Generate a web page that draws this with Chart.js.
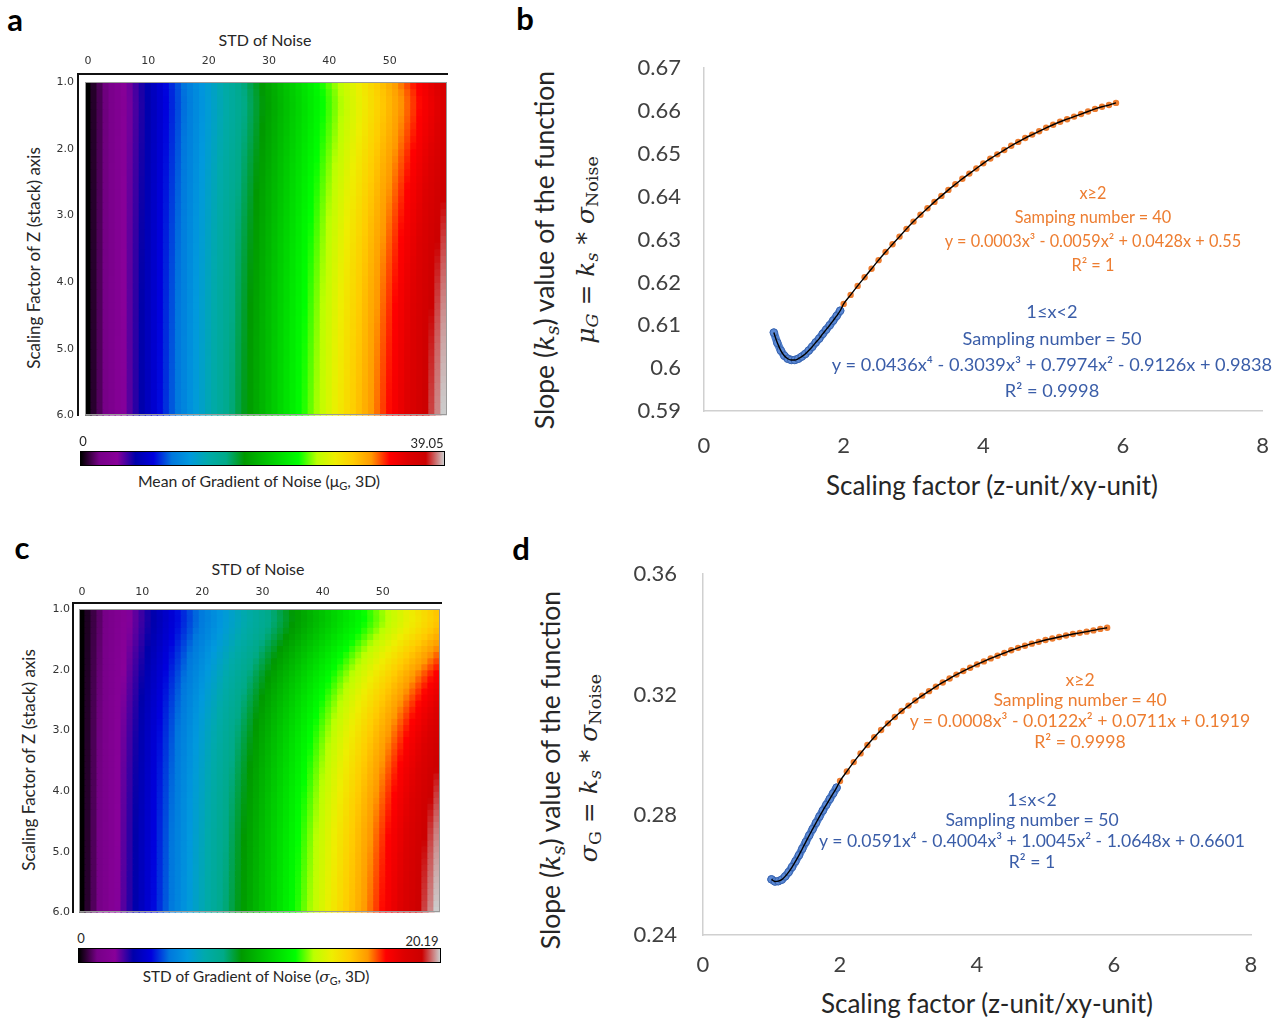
<!DOCTYPE html>
<html>
<head>
<meta charset="utf-8">
<script src="https://cdn.jsdelivr.net/npm/chart.js@4.4.0/dist/chart.umd.min.js"></script>
<style>
  body { margin: 0; background: #fff; }
  #fig { position: relative; width: 1285px; height: 1019px; overflow: hidden; font-family: Lato, 'Open Sans', sans-serif; color: #262626; }
  canvas { position: absolute; }
  .t { position: absolute; transform: translate(-50%, -50%); white-space: nowrap; line-height: 1; }
  .rot { transform: translate(-50%, -50%) rotate(-90deg); }
  .lbl { font-weight: 700; font-size: 31px; color: #000; }
  .m { font-family: 'DejaVu Serif', serif; font-style: italic; }
  .up { font-style: normal; }
  .o { color: #ED7D31; }
  .bl { color: #3A5DA8; }
  .line { position: absolute; background: #111; }
  .frame { position: absolute; border: 1px solid #9a9a9a; box-sizing: border-box; pointer-events: none; }
  .cbar { position: absolute; border: 1px solid #000; box-sizing: border-box; }
  sub { font-size: 0.7em; vertical-align: -0.25em; }
</style>
</head>
<body>
<div id="fig">
  <!-- panel a -->
  <div class="t lbl" style="left:15px; top:19px;">a</div>
  <div class="t" style="left:265px; top:40px; font-size:16px;">STD of Noise</div>
  <div class="t rot" style="left:33px; top:258px; font-size:17px;">Scaling Factor of Z (stack) axis</div>
  <canvas id="heatA" width="430" height="392" style="left:30px; top:41px;"></canvas>
  <div class="line" style="left:77px; top:73px; width:371px; height:2px;"></div>
  <div class="line" style="left:77px; top:73px; width:2px; height:343px;"></div>
  <div class="frame" id="frameA"></div>
  <div class="cbar" id="barA" style="left:80px; top:451px; width:365px; height:15px;"></div>
  <div class="t" style="left:83px; top:441px; font-size:13px;">0</div>
  <div class="t" style="left:427px; top:443px; font-size:13px;">39.05</div>
  <div class="t" style="left:259px; top:482px; font-size:15.8px;">Mean of Gradient of Noise (μ<sub>G</sub>, 3D)</div>

  <!-- panel c -->
  <div class="t lbl" style="left:22px; top:547px;">c</div>
  <div class="t" style="left:258px; top:569px; font-size:16px;">STD of Noise</div>
  <div class="t rot" style="left:28px; top:760px; font-size:17px;">Scaling Factor of Z (stack) axis</div>
  <canvas id="heatC" width="430" height="366" style="left:25px; top:562px;"></canvas>
  <div class="line" style="left:72px; top:602px; width:370px; height:2px;"></div>
  <div class="line" style="left:72px; top:602px; width:2px; height:311px;"></div>
  <div class="frame" id="frameC"></div>
  <div class="cbar" id="barC" style="left:78px; top:948px; width:363px; height:15px;"></div>
  <div class="t" style="left:81px; top:938px; font-size:13px;">0</div>
  <div class="t" style="left:422px; top:941px; font-size:13px;">20.19</div>
  <div class="t" style="left:256px; top:978px; font-size:15.3px;">STD of Gradient of Noise (<span class="m">σ</span><sub>G</sub>, 3D)</div>

  <!-- panel b -->
  <div class="t lbl" style="left:525px; top:18px;">b</div>
  <div class="t rot" style="left:547px; top:250px; font-size:26.5px;">Slope (<span class="m">k<sub>s</sub></span>) value of the function</div>
  <div class="t rot m" style="left:587px; top:250px; font-size:25px;">μ<sub>G</sub> <span class="up">=</span> k<sub>s</sub> <span class="up">*</span> σ<sub class="up">Noise</sub></div>
  <canvas id="slopeB" width="691" height="424" style="left:600px; top:32px;"></canvas>
  <div class="t" style="left:992px; top:485px; font-size:26px;">Scaling factor (z-unit/xy-unit)</div>
  <div class="t o" style="left:1093px; top:193px; font-size:16.3px;">x≥2</div>
  <div class="t o" style="left:1093px; top:217px; font-size:16.3px;">Samping number = 40</div>
  <div class="t o" style="left:1093px; top:241px; font-size:16.3px;">y = 0.0003x³ - 0.0059x² + 0.0428x + 0.55</div>
  <div class="t o" style="left:1093px; top:265px; font-size:16.3px;">R² = 1</div>
  <div class="t bl" style="left:1052px; top:311px; font-size:18.2px;">1≤x&lt;2</div>
  <div class="t bl" style="left:1052px; top:338px; font-size:18.2px;">Sampling number = 50</div>
  <div class="t bl" style="left:1052px; top:364px; font-size:18.2px;">y = 0.0436x⁴ - 0.3039x³ + 0.7974x² - 0.9126x + 0.9838</div>
  <div class="t bl" style="left:1052px; top:390px; font-size:18.2px;">R² = 0.9998</div>

  <!-- panel d -->
  <div class="t lbl" style="left:521px; top:548px;">d</div>
  <div class="t rot" style="left:553px; top:770px; font-size:26.5px;">Slope (<span class="m">k<sub>s</sub></span>) value of the function</div>
  <div class="t rot m" style="left:590px; top:768px; font-size:25px;">σ<sub class="up">G</sub> <span class="up">=</span> k<sub>s</sub> <span class="up">*</span> σ<sub class="up">Noise</sub></div>
  <canvas id="slopeD" width="676" height="445" style="left:600px; top:535px;"></canvas>
  <div class="t" style="left:987px; top:1003px; font-size:26px;">Scaling factor (z-unit/xy-unit)</div>
  <div class="t o" style="left:1080px; top:680px; font-size:17.6px;">x≥2</div>
  <div class="t o" style="left:1080px; top:700px; font-size:17.6px;">Sampling number = 40</div>
  <div class="t o" style="left:1080px; top:721px; font-size:17.6px;">y = 0.0008x³ - 0.0122x² + 0.0711x + 0.1919</div>
  <div class="t o" style="left:1080px; top:742px; font-size:17.6px;">R² = 0.9998</div>
  <div class="t bl" style="left:1032px; top:800px; font-size:17.6px;">1≤x&lt;2</div>
  <div class="t bl" style="left:1032px; top:820px; font-size:17.6px;">Sampling number = 50</div>
  <div class="t bl" style="left:1032px; top:841px; font-size:17.6px;">y = 0.0591x⁴ - 0.4004x³ + 1.0045x² - 1.0648x + 0.6601</div>
  <div class="t bl" style="left:1032px; top:862px; font-size:17.6px;">R² = 1</div>
</div>

<script>
// STD of noise columns and scaling factor rows of the heatmaps
const noiseStd = [0,1,2,3,4,5,6,7,8,9,10,11,12,13,14,15,16,17,18,19,20,21,22,23,24,25,26,27,28,29,
                  30,31,32,33,34,35,36,37,38,39,40,41,42,43,44,45,46,47,48,49,50,51,52,53,54,55,56,57,58,59];
const rowScale = [1.0,1.1,1.2,1.3,1.4,1.5,1.6,1.7,1.8,1.9,2.0,2.1,2.2,2.3,2.4,2.5,2.6,2.7,2.8,2.9,
                  3.0,3.1,3.2,3.3,3.4,3.5,3.6,3.7,3.8,3.9,4.0,4.1,4.2,4.3,4.4,4.5,4.6,4.7,4.8,4.9,
                  5.0,5.1,5.2,5.3,5.4,5.5,5.6,5.7,5.8,5.9];

// slope samples, 1 <= x < 2
const lowX = [1.00,1.05,1.10,1.15,1.20,1.25,1.30,1.35,1.40,1.45,1.50,1.55,1.60,1.65,1.70,1.75,1.80,1.85,1.90,1.95];
const muLowY = [0.6083,0.6059,0.6041,0.6029,0.6022,0.6019,0.6019,0.6022,0.6027,0.6033,
                0.6041,0.6050,0.6060,0.6069,0.6080,0.6090,0.6100,0.6111,0.6122,0.6134];
const sigLowY = [0.2585,0.2578,0.2579,0.2584,0.2595,0.2609,0.2626,0.2645,0.2665,0.2687,
                 0.2709,0.2731,0.2752,0.2773,0.2794,0.2814,0.2833,0.2852,0.2871,0.2890];

// slope samples, x >= 2
const highX = [2.0,2.1,2.2,2.3,2.4,2.5,2.6,2.7,2.8,2.9,3.0,3.1,3.2,3.3,3.4,3.5,3.6,3.7,3.8,3.9,
               4.0,4.1,4.2,4.3,4.4,4.5,4.6,4.7,4.8,4.9,5.0,5.1,5.2,5.3,5.4,5.5,5.6,5.7,5.8,5.9];
const muHighY = [0.6150,0.6171,0.6192,0.6212,0.6232,0.6252,0.6271,0.6289,0.6307,0.6325,
                 0.6342,0.6358,0.6373,0.6388,0.6402,0.6416,0.6429,0.6442,0.6454,0.6466,
                 0.6478,0.6489,0.6499,0.6509,0.6519,0.6528,0.6537,0.6545,0.6553,0.6561,
                 0.6568,0.6575,0.6581,0.6587,0.6593,0.6599,0.6605,0.6610,0.6614,0.6619];
const sigHighY = [0.2912,0.2944,0.2975,0.3004,0.3032,0.3058,0.3082,0.3104,0.3125,0.3145,
                  0.3163,0.3180,0.3196,0.3211,0.3226,0.3240,0.3253,0.3266,0.3278,0.3289,
                  0.3300,0.3310,0.3320,0.3329,0.3338,0.3347,0.3355,0.3362,0.3369,0.3375,
                  0.3381,0.3386,0.3391,0.3396,0.3401,0.3405,0.3409,0.3413,0.3418,0.3422];

// colour bar limits and tick labels
const muMax = 39.05;
const sigMax = 20.19;
const heatXTicks = [0,10,20,30,40,50];
const heatYTicks = [1,2,3,4,5,6];
const factorTicks = [0,2,4,6,8];
const muTicks = [0.59,0.6,0.61,0.62,0.63,0.64,0.65,0.66,0.67];
const sigTicks = [0.24,0.28,0.32,0.36];

// nipy_spectral colour stops
const cmapStops = [
    [0,0,0],[0.4667,0,0.5333],[0.5333,0,0.6],[0,0,0.6667],[0,0,0.8667],[0,0.4667,0.8667],
    [0,0.6,0.8667],[0,0.6667,0.6667],[0,0.6667,0.5333],[0,0.6,0],[0,0.7333,0],[0,0.8667,0],
    [0,1,0],[0.7333,1,0],[0.9333,0.9333,0],[1,0.8,0],[1,0.6,0],[1,0,0],[0.8667,0,0],[0.8,0,0],[0.8,0.8,0.8]
];

function spectral(t) {
    t = Math.max(0, Math.min(1, t));
    const p = t * (cmapStops.length - 1);
    const i = Math.min(Math.floor(p), cmapStops.length - 2);
    const f = p - i;
    const a = cmapStops[i], b = cmapStops[i + 1];
    const c = a.map((v, j) => Math.round(255 * (v + (b[j] - v) * f)));
    return `rgb(${c[0]},${c[1]},${c[2]})`;
}

function stopColor(c) {
    return `rgb(${Math.round(c[0] * 255)},${Math.round(c[1] * 255)},${Math.round(c[2] * 255)})`;
}

// colour bars
const gradient = 'linear-gradient(to right,' +
    cmapStops.map((c, i) => `${stopColor(c)} ${(i * 100 / (cmapStops.length - 1)).toFixed(1)}%`).join(',') + ')';
document.getElementById('barA').style.background = gradient;
document.getElementById('barC').style.background = gradient;

function slopeFor(s, lowY, highY) {
    let i = lowX.findIndex(x => Math.abs(x - s) < 1e-6);
    if (i >= 0) return lowY[i];
    i = highX.findIndex(x => Math.abs(x - s) < 1e-6);
    return highY[i];
}

const tickFont = { family: 'DejaVu Sans', size: 11 };

function drawHeatmap(id, frameId, lowY, highY, vmax, yAxisW, xAxisH, pad, xPad, yPad) {
    const datasets = rowScale.map(s => {
        const k = slopeFor(s, lowY, highY);
        return {
            data: noiseStd.map(() => [s, s + 0.1]),
            backgroundColor: noiseStd.map(n => spectral(k * n / vmax)),
            borderWidth: 0,
            barPercentage: 1,
            categoryPercentage: 1,
            grouped: false,
            inflateAmount: 0.6
        };
    });

    const canvas = document.getElementById(id);
    const chart = new Chart(canvas, {
        type: 'bar',
        data: { labels: noiseStd.map(String), datasets: datasets },
        options: {
            responsive: false,
            animation: false,
            events: [],
            layout: { padding: pad },
            plugins: { legend: { display: false }, tooltip: { enabled: false } },
            scales: {
                x: {
                    position: 'top',
                    grid: { display: false, drawTicks: false },
                    border: { display: false },
                    afterFit: (scale) => { scale.height = xAxisH; },
                    ticks: {
                        autoSkip: false,
                        maxRotation: 0,
                        padding: xPad,
                        color: '#333',
                        font: tickFont,
                        callback: (v, i) => heatXTicks.includes(noiseStd[i]) ? String(noiseStd[i]) : ''
                    }
                },
                y: {
                    min: 1,
                    max: 6,
                    reverse: true,
                    grid: { display: false, drawTicks: false },
                    border: { display: false },
                    afterFit: (scale) => { scale.width = yAxisW; },
                    afterBuildTicks: (scale) => { scale.ticks = heatYTicks.map(v => ({ value: v })); },
                    ticks: { padding: yPad, color: '#333', font: tickFont, callback: v => v.toFixed(1) }
                }
            }
        }
    });

    // thin grey border round the image
    const ca = chart.chartArea;
    const frame = document.getElementById(frameId);
    frame.style.left = (canvas.offsetLeft + ca.left) + 'px';
    frame.style.top = (canvas.offsetTop + ca.top) + 'px';
    frame.style.width = (ca.right - ca.left) + 'px';
    frame.style.height = (ca.bottom - ca.top) + 'px';
}

function drawSlope(id, lowY, highY, yTicks, yAxisW, xAxisH, pad, xPad, yPad) {
    const lowPts = lowX.map((x, i) => ({ x: x, y: lowY[i] }));
    const highPts = highX.map((x, i) => ({ x: x, y: highY[i] }));

    new Chart(document.getElementById(id), {
        type: 'scatter',
        data: {
            datasets: [
                {
                    // trend line
                    data: lowPts.concat(highPts),
                    showLine: true,
                    borderColor: '#000',
                    borderWidth: 1.4,
                    pointRadius: 0,
                    cubicInterpolationMode: 'monotone'
                },
                {
                    data: highPts,
                    pointRadius: 3.2,
                    pointBackgroundColor: '#ED7D31',
                    pointBorderWidth: 0
                },
                {
                    data: lowPts,
                    showLine: true,
                    borderColor: '#4F7FCB',
                    borderWidth: 8,
                    borderCapStyle: 'round',
                    borderJoinStyle: 'round',
                    pointRadius: 3.8,
                    pointBackgroundColor: '#5A88D4',
                    pointBorderColor: '#3863AE',
                    pointBorderWidth: 1
                }
            ]
        },
        options: {
            responsive: false,
            animation: false,
            events: [],
            layout: { padding: pad },
            plugins: { legend: { display: false }, tooltip: { enabled: false } },
            scales: {
                x: {
                    type: 'linear',
                    min: 0,
                    max: 8,
                    grid: { display: false, drawTicks: false },
                    border: { color: '#d0d0d0', width: 1.5 },
                    afterFit: (scale) => { scale.height = xAxisH; },
                    afterBuildTicks: (scale) => { scale.ticks = factorTicks.map(v => ({ value: v })); },
                    ticks: { padding: xPad, color: '#404040', font: { family: 'Lato', size: 22 }, callback: v => String(v) }
                },
                y: {
                    min: yTicks[0],
                    max: yTicks[yTicks.length - 1],
                    grid: { display: false, drawTicks: false },
                    border: { color: '#d0d0d0', width: 1.5 },
                    afterFit: (scale) => { scale.width = yAxisW; },
                    afterBuildTicks: (scale) => { scale.ticks = yTicks.map(v => ({ value: v })); },
                    ticks: { padding: yPad, color: '#404040', font: { family: 'Lato', size: 22 }, callback: v => String(+v.toFixed(2)) }
                }
            }
        }
    });
}

drawHeatmap('heatA', 'frameA', muLowY, muHighY, muMax, 55, 41, { top: 0, right: 13, bottom: 6, left: 0 }, 14, 11);
drawHeatmap('heatC', 'frameC', sigLowY, sigHighY, sigMax, 54, 47, { top: 0, right: 15, bottom: 5, left: 0 }, 10, 9);
drawSlope('slopeB', muLowY, muHighY, muTicks, 104, 45, { top: 17, right: 20, bottom: 0, left: 0 }, 22, 23);
drawSlope('slopeD', sigLowY, sigHighY, sigTicks, 103, 45, { top: 18, right: 25, bottom: 0, left: 0 }, 17, 26);
</script>
</body>
</html>
